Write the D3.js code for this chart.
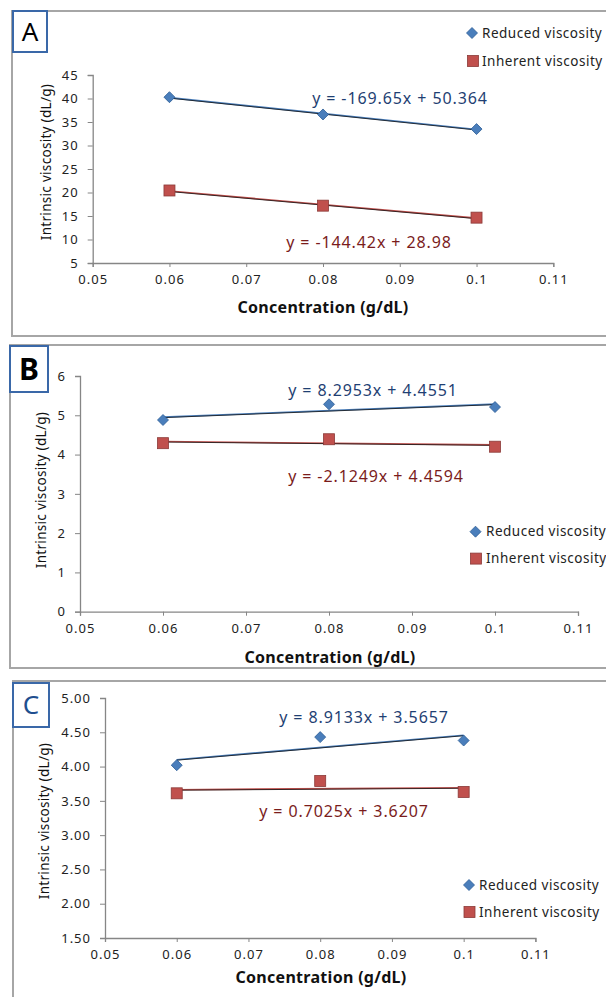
<!DOCTYPE html>
<html>
<head>
<meta charset="utf-8">
<script src="https://cdn.jsdelivr.net/npm/d3@7"></script>
<style>
    body { margin: 0; background: #fff; }
    text { font-family: "Noto Sans", sans-serif; }
</style>
</head>
<body>
<svg id="chart" width="606" height="997"></svg>
<script>
// data
var concentration = [0.06, 0.08, 0.1];
var xTicks = [0.05, 0.06, 0.07, 0.08, 0.09, 0.1, 0.11];
var seriesNames = ["Reduced viscosity", "Inherent viscosity"];

var reducedA = [40.28, 36.6, 33.5];
var inherentA = [20.43, 17.2, 14.65];
var fitReducedA = [-169.65, 50.364];
var fitInherentA = [-144.42, 28.98];
var yTicksA = [5, 10, 15, 20, 25, 30, 35, 40, 45];

var reducedB = [4.88, 5.28, 5.21];
var inherentB = [4.29, 4.39, 4.2];
var fitReducedB = [8.2953, 4.4551];
var fitInherentB = [-2.1249, 4.4594];
var yTicksB = [0, 1, 2, 3, 4, 5, 6];

var reducedC = [4.02, 4.43, 4.38];
var inherentC = [3.61, 3.79, 3.63];
var fitReducedC = [8.9133, 3.5657];
var fitInherentC = [0.7025, 3.6207];
var yTicksC = [1.5, 2, 2.5, 3, 3.5, 4, 4.5, 5];

var svg = d3.select("#chart");

var blue = { fill: "#4a7ebb", stroke: "#2c5d95", text: "#1f3f73" };
var red = { fill: "#c0504d", stroke: "#8b3a38", text: "#7a1c1c" };

var panels = [
    { label: "A", labelWeight: "normal", labelColor: "#000", labelSize: 26,
      frame: [12, 11, 610, 325], box: [13, 11, 34, 41],
      reduced: reducedA, inherent: inherentA, fitR: fitReducedA, fitI: fitInherentA,
      yTicks: yTicksA, yFmt: d3.format("d"),
      xRange: [92.7, 553.3], yRange: [263, 75],
      eqR: [400, 98], eqI: [369, 242],
      legend: [[472, 33, 482], [473, 61, 482]],
      yTitle: [46, 162], xTitle: [323, 307] },
    { label: "B", labelWeight: "bold", labelColor: "#000", labelSize: 30,
      frame: [10, 345, 610, 323], box: [10, 346, 38, 46],
      reduced: reducedB, inherent: inherentB, fitR: fitReducedB, fitI: fitInherentB,
      yTicks: yTicksB, yFmt: d3.format("d"),
      xRange: [80, 578], yRange: [611.7, 376],
      eqR: [373, 390], eqI: [376, 476],
      legend: [[475.5, 531.7, 486], [476, 558.6, 486]],
      yTitle: [41, 490], xTitle: [330, 657] },
    { label: "C", labelWeight: "normal", labelColor: "#1f4f8f", labelSize: 26,
      frame: [13, 681, 610, 340], box: [13, 683, 36, 44],
      reduced: reducedC, inherent: inherentC, fitR: fitReducedC, fitI: fitInherentC,
      yTicks: yTicksC, yFmt: d3.format(".2f"),
      xRange: [105, 535.4], yRange: [938, 698],
      eqR: [364, 717], eqI: [344, 811],
      legend: [[469, 885, 479], [469.5, 912, 479]],
      yTitle: [44, 821], xTitle: [321, 977] }
];

function diamond(g, cx, cy, c) {
    g.append("path")
        .attr("d", "M" + cx + "," + (cy - 5.5) + "L" + (cx + 5.5) + "," + cy +
            "L" + cx + "," + (cy + 5.5) + "L" + (cx - 5.5) + "," + cy + "Z")
        .attr("fill", c.fill)
        .attr("stroke", c.stroke)
        .attr("stroke-width", 0.8);
}

function square(g, cx, cy, c) {
    g.append("rect")
        .attr("x", cx - 5.5).attr("y", cy - 5.5)
        .attr("width", 11).attr("height", 11)
        .attr("fill", c.fill)
        .attr("stroke", c.stroke)
        .attr("stroke-width", 0.8);
}

function eqText(fit) {
    return "y = " + fit[0] + "x + " + fit[1];
}

function drawPanel(p) {
    var g = svg.append("g");

    g.append("rect")
        .attr("x", p.frame[0]).attr("y", p.frame[1])
        .attr("width", p.frame[2]).attr("height", p.frame[3])
        .attr("fill", "none")
        .attr("stroke", "#a6a6a6")
        .attr("stroke-width", 2);

    var x = d3.scaleLinear().domain([0.05, 0.11]).range(p.xRange);
    var y = d3.scaleLinear()
        .domain([p.yTicks[0], p.yTicks[p.yTicks.length - 1]])
        .range(p.yRange);

    var xAxis = g.append("g")
        .attr("transform", "translate(0," + p.yRange[0] + ")")
        .call(d3.axisBottom(x).tickValues(xTicks).tickSize(4).tickPadding(8)
            .tickFormat(function (d) { return String(+d.toFixed(2)); }));

    var yAxis = g.append("g")
        .attr("transform", "translate(" + p.xRange[0] + ",0)")
        .call(d3.axisLeft(y).tickValues(p.yTicks).tickSize(5).tickPadding(9)
            .tickFormat(p.yFmt));

    [xAxis, yAxis].forEach(function (ax) {
        ax.select(".domain").attr("stroke", "#868686").attr("stroke-width", 1.3);
        ax.selectAll(".tick line").attr("stroke", "#868686");
        ax.selectAll(".tick text")
            .attr("fill", "#222")
            .style("font-size", "13px")
            .style("letter-spacing", "1px");
    });

    // trendlines
    [[p.fitR, blue], [p.fitI, red]].forEach(function (t) {
        var fit = t[0];
        var x0 = concentration[0], x1 = concentration[concentration.length - 1];
        g.append("line")
            .attr("x1", x(x0)).attr("y1", y(fit[0] * x0 + fit[1]))
            .attr("x2", x(x1)).attr("y2", y(fit[0] * x1 + fit[1]))
            .attr("stroke", t[1].fill)
            .attr("stroke-width", 1.6);
        g.append("line")
            .attr("x1", x(x0)).attr("y1", y(fit[0] * x0 + fit[1]) + 0.5)
            .attr("x2", x(x1)).attr("y2", y(fit[0] * x1 + fit[1]) + 0.5)
            .attr("stroke", "#111")
            .attr("stroke-width", 0.8);
    });

    concentration.forEach(function (c, i) {
        diamond(g, x(c), y(p.reduced[i]), blue);
        square(g, x(c), y(p.inherent[i]), red);
    });

    g.append("text")
        .attr("x", p.eqR[0]).attr("y", p.eqR[1])
        .attr("text-anchor", "middle").attr("dy", "0.35em")
        .attr("fill", blue.text)
        .style("font-size", "16px")
        .style("letter-spacing", "0.9px")
        .text(eqText(p.fitR));

    g.append("text")
        .attr("x", p.eqI[0]).attr("y", p.eqI[1])
        .attr("text-anchor", "middle").attr("dy", "0.35em")
        .attr("fill", red.text)
        .style("font-size", "16px")
        .style("letter-spacing", "0.9px")
        .text(eqText(p.fitI));

    // legend
    diamond(g, p.legend[0][0], p.legend[0][1], blue);
    square(g, p.legend[1][0], p.legend[1][1], red);
    p.legend.forEach(function (l, i) {
        g.append("text")
            .attr("x", l[2]).attr("y", l[1])
            .attr("dy", "0.35em")
            .attr("fill", "#222")
            .style("font-size", "13.5px")
            .style("letter-spacing", "0.5px")
            .text(seriesNames[i]);
    });

    g.append("text")
        .attr("transform", "translate(" + p.yTitle[0] + "," + p.yTitle[1] + ") rotate(-90)")
        .attr("text-anchor", "middle").attr("dy", "0.35em")
        .attr("fill", "#111")
        .style("font-size", "13.5px")
        .style("letter-spacing", "0.3px")
        .text("Intrinsic viscosity (dL/g)");

    g.append("text")
        .attr("x", p.xTitle[0]).attr("y", p.xTitle[1])
        .attr("text-anchor", "middle").attr("dy", "0.35em")
        .attr("fill", "#111")
        .style("font-size", "16px")
        .style("letter-spacing", "0.3px")
        .style("font-weight", "bold")
        .text("Concentration (g/dL)");

    // panel letter box
    g.append("rect")
        .attr("x", p.box[0]).attr("y", p.box[1])
        .attr("width", p.box[2]).attr("height", p.box[3])
        .attr("fill", "#fff")
        .attr("stroke", "#3a68a8")
        .attr("stroke-width", 2);

    g.append("text")
        .attr("x", p.box[0] + p.box[2] / 2).attr("y", p.box[1] + p.box[3] / 2)
        .attr("text-anchor", "middle").attr("dy", "0.36em")
        .attr("fill", p.labelColor)
        .style("font-size", p.labelSize + "px")
        .style("font-weight", p.labelWeight)
        .text(p.label);
}

panels.forEach(drawPanel);
</script>
</body>
</html>
